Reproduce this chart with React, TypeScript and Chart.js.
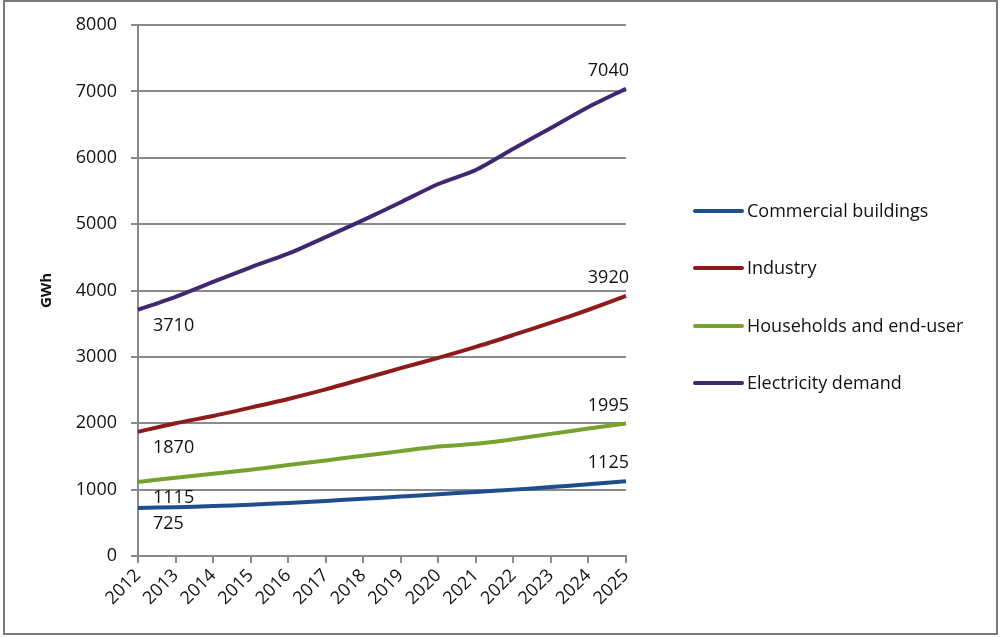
import React, { useEffect, useRef } from "react";
import { Chart, registerables } from "chart.js";

Chart.register(...registerables);

const years = ["2012","2013","2014","2015","2016","2017","2018","2019","2020","2021","2022","2023","2024","2025"];
const commercial = [725, 735, 752, 772, 800, 830, 862, 895, 930, 965, 1000, 1038, 1080, 1125];
const industry = [1870, 2000, 2110, 2235, 2365, 2510, 2670, 2830, 2985, 3150, 3330, 3515, 3710, 3920];
const households = [1115, 1180, 1240, 1300, 1370, 1440, 1510, 1580, 1650, 1690, 1760, 1840, 1920, 1995];
const electricity = [3710, 3905, 4130, 4350, 4555, 4805, 5060, 5330, 5605, 5815, 6135, 6450, 6765, 7040];
const seriesNames = ["Commercial buildings", "Industry", "Households and end-user", "Electricity demand"];
const seriesColors = ["#1F4E8C", "#8E1B1B", "#77A22F", "#3F2870"];
const yTicks = [0, 1000, 2000, 3000, 4000, 5000, 6000, 7000, 8000];
const yTitle = "GWh";

const FONT = "'Open Sans', Lato, sans-serif";

const decorPlugin = {
  id: "decor",
  beforeDraw(chart: any) {
    const ctx = chart.ctx;
    ctx.save();
    ctx.fillStyle = "#ffffff";
    ctx.fillRect(0, 0, chart.width, chart.height);
    ctx.strokeStyle = "#7a7a7a";
    ctx.lineWidth = 2;
    ctx.strokeRect(4, 1, 993, 633);
    ctx.restore();
  },
  afterDraw(chart: any) {
    const ctx = chart.ctx;
    ctx.save();
    ctx.translate(47, chart.chartArea.top + (chart.chartArea.bottom - chart.chartArea.top) / 2);
    ctx.rotate(-Math.PI / 2);
    ctx.font = "bold 15px " + FONT;
    ctx.fillStyle = "#111";
    ctx.textAlign = "center";
    ctx.textBaseline = "middle";
    ctx.fillText(yTitle, 0, 0);
    ctx.restore();

    ctx.save();
    const legendYs = [211, 268, 326, 383];
    seriesNames.forEach((name, i) => {
      const y = legendYs[i];
      ctx.strokeStyle = seriesColors[i];
      ctx.lineWidth = 4;
      ctx.lineCap = "round";
      ctx.beginPath();
      ctx.moveTo(695, y);
      ctx.lineTo(742, y);
      ctx.stroke();
      ctx.font = "18px " + FONT;
      ctx.fillStyle = "#111";
      ctx.textAlign = "left";
      ctx.textBaseline = "middle";
      ctx.fillText(name, 747, y + 1);
    });
    ctx.restore();

    ctx.save();
    ctx.font = "18px " + FONT;
    ctx.fillStyle = "#111";
    ctx.textBaseline = "middle";
    chart.data.datasets.forEach((ds: any, i: number) => {
      const meta = chart.getDatasetMeta(i);
      const first = meta.data[0];
      const last = meta.data[meta.data.length - 1];
      ctx.textAlign = "left";
      ctx.fillText(String(ds.data[0]), first.x + 15, first.y + 16);
      ctx.textAlign = "right";
      ctx.fillText(String(ds.data[ds.data.length - 1]), last.x + 3, last.y - 18);
    });
    ctx.restore();
  },
};

export default function App() {
  const ref = useRef<HTMLCanvasElement>(null);
  useEffect(() => {
    if (!ref.current) return;
    const data = [commercial, industry, households, electricity];
    const chart = new Chart(ref.current, {
      type: "line",
      data: {
        labels: years,
        datasets: data.map((d, i) => ({
          label: seriesNames[i],
          data: d,
          borderColor: seriesColors[i],
          backgroundColor: seriesColors[i],
          borderWidth: 4,
          pointRadius: 0,
          tension: 0.25,
          fill: false,
        })),
      },
      options: {
        responsive: false,
        animation: false,
        layout: { padding: { left: 0, right: 376, top: 25, bottom: 0 } },
        plugins: { legend: { display: false }, tooltip: { enabled: false } },
        scales: {
          x: {
            offset: false,
            grid: { display: true, drawOnChartArea: false, drawTicks: true, tickLength: 7, color: "#8a8a8a", lineWidth: 2 },
            border: { display: true, color: "#8a8a8a", width: 2 },
            ticks: {
              autoSkip: false,
              minRotation: 45,
              maxRotation: 45,
              padding: 2,
              color: "#111",
              font: { family: FONT, size: 18 },
            },
            afterFit(scale: any) {
              scale.height = 81;
            },
          },
          y: {
            min: 0,
            max: 8000,
            afterBuildTicks(scale: any) {
              scale.ticks = yTicks.map((v) => ({ value: v }));
            },
            grid: { color: "#8a8a8a", lineWidth: 2, tickLength: 7, drawTicks: true },
            border: { display: true, color: "#8a8a8a", width: 2 },
            ticks: {
              padding: 14,
              color: "#111",
              font: { family: FONT, size: 18 },
              callback: (v: any) => String(v),
            },
            afterFit(scale: any) {
              scale.width = 138;
            },
          },
        },
      },
      plugins: [decorPlugin],
    });
    return () => chart.destroy();
  }, []);
  return (
    <div style={{ position: "fixed", left: 0, top: 0, width: 1002, height: 637, background: "#fff" }}>
      <canvas ref={ref} width={1002} height={637} style={{ display: "block" }} />
    </div>
  );
}
